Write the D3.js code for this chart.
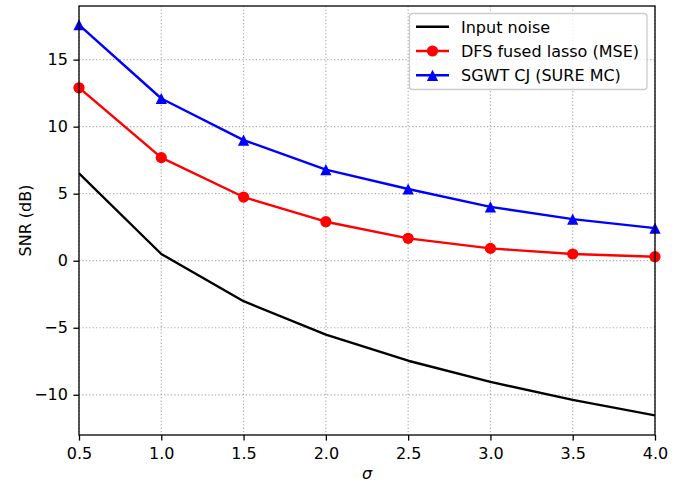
<!DOCTYPE html>
<html>
<head>
<meta charset="utf-8">
<script src="https://cdn.jsdelivr.net/npm/d3@7"></script>
<style>
  html, body { margin: 0; padding: 0; background: #fff; }
  svg { display: block; font-family: "DejaVu Sans", sans-serif; }
</style>
</head>
<body>
<svg id="chart" width="686" height="483"></svg>
<script>
const sigmas = [0.5, 1.0, 1.5, 2.0, 2.5, 3.0, 3.5, 4.0];
const inputNoise = [6.52, 0.50, -3.02, -5.52, -7.46, -9.04, -10.38, -11.54];
const dfsFusedLasso = [12.9, 7.69, 4.75, 2.91, 1.67, 0.92, 0.50, 0.30];
const sgwtCJ = [17.6, 12.1, 9.0, 6.8, 5.35, 4.02, 3.1, 2.43];
const xTicks = [0.5, 1.0, 1.5, 2.0, 2.5, 3.0, 3.5, 4.0];
const yTicks = [-10, -5, 0, 5, 10, 15];
const seriesNames = ["Input noise", "DFS fused lasso (MSE)", "SGWT CJ (SURE MC)"];

const svg = d3.select("#chart");
const L = 79, R = 655, T = 6, B = 435;
const x = d3.scaleLinear().domain([0.5, 4.0]).range([L, R]);
const y = d3.scaleLinear().domain([-13.0, 19.0]).range([B, T]);

// grid
const grid = svg.append("g");
grid.selectAll("line.vx").data(xTicks).join("line")
  .attr("x1", d => x(d)).attr("x2", d => x(d)).attr("y1", T).attr("y2", B)
  .attr("stroke", "#b0b0b0").attr("stroke-width", 1.2).attr("stroke-dasharray", "1.3,2.1");
grid.selectAll("line.hy").data(yTicks).join("line")
  .attr("y1", d => y(d)).attr("y2", d => y(d)).attr("x1", L).attr("x2", R)
  .attr("stroke", "#b0b0b0").attr("stroke-width", 1.2).attr("stroke-dasharray", "1.3,2.1");

// axes
const xAxis = d3.axisBottom(x).tickValues(xTicks).tickFormat(d3.format(".1f")).tickSizeOuter(0).tickSize(5.6).tickPadding(7);
const yAxis = d3.axisLeft(y).tickValues(yTicks).tickFormat(d => d < 0 ? "\u2212" + Math.abs(d) : d).tickSizeOuter(0).tickSize(5.6).tickPadding(5.5);
const gx = svg.append("g").attr("transform", `translate(0,${B})`).call(xAxis);
const gy = svg.append("g").attr("transform", `translate(${L},0)`).call(yAxis);
[gx, gy].forEach(g => {
  g.select(".domain").remove();
  g.selectAll("text").attr("font-size", 16).attr("fill", "#000").attr("font-family", "DejaVu Sans, sans-serif");
  g.selectAll("line").attr("stroke", "#000").attr("stroke-width", 1.3);
});

// series
const series = [
  {name: seriesNames[0], vals: inputNoise, color: "#000000", marker: null},
  {name: seriesNames[1], vals: dfsFusedLasso, color: "#ff0000", marker: "circle"},
  {name: seriesNames[2], vals: sgwtCJ, color: "#0000ff", marker: "triangle"}
];
const line = d3.line().x((d, i) => x(sigmas[i])).y(d => y(d));
svg.append("clipPath").attr("id", "clip").append("rect")
  .attr("x", L).attr("y", T).attr("width", R - L).attr("height", B - T);
const plot = svg.append("g");
const circlePath = d3.symbol().type(d3.symbolCircle).size(Math.PI * 5.6 * 5.6)();
const h = 5.6;
const triPath = `M0,${-h}L${h},${h}L${-h},${h}Z`;
series.forEach(s => {
  plot.append("path").datum(s.vals).attr("d", line)
    .attr("fill", "none").attr("stroke", s.color).attr("stroke-width", 2.4)
    .attr("stroke-linejoin", "round").attr("clip-path", "url(#clip)");
  if (s.marker) {
    const p = s.marker === "circle" ? circlePath : triPath;
    plot.selectAll(null).data(s.vals).join("path")
      .attr("d", p)
      .attr("transform", (d, i) => `translate(${x(sigmas[i])},${y(d)})`)
      .attr("fill", s.color);
  }
});

// frame
svg.append("rect").attr("x", L).attr("y", T).attr("width", R - L).attr("height", B - T)
  .attr("fill", "none").attr("stroke", "#000").attr("stroke-width", 1.3);

// axis labels
svg.append("text").attr("x", (L + R) / 2).attr("y", 479).attr("text-anchor", "middle")
  .attr("font-size", 16).attr("font-style", "italic").text("\u03c3");
svg.append("text").attr("transform", `translate(30.5,${(T + B) / 2}) rotate(-90)`)
  .attr("text-anchor", "middle").attr("font-size", 16).text("SNR (dB)");

// legend
const lg = svg.append("g");
lg.append("rect").attr("x", 409.5).attr("y", 13.5).attr("width", 237.5).attr("height", 76)
  .attr("rx", 3).attr("fill", "#fff").attr("fill-opacity", 0.8).attr("stroke", "#cccccc").attr("stroke-width", 1.3);
series.forEach((s, i) => {
  const cy = 26.7 + i * 24.3;
  lg.append("line").attr("x1", 416).attr("x2", 449).attr("y1", cy).attr("y2", cy)
    .attr("stroke", s.color).attr("stroke-width", 2.4);
  if (s.marker) {
    const p = s.marker === "circle" ? circlePath : triPath;
    lg.append("path").attr("d", p).attr("transform", `translate(432.5,${cy})`).attr("fill", s.color);
  }
  lg.append("text").attr("x", 461).attr("y", cy + 5.8).attr("font-size", 16).text(s.name);
});
</script>
</body>
</html>
